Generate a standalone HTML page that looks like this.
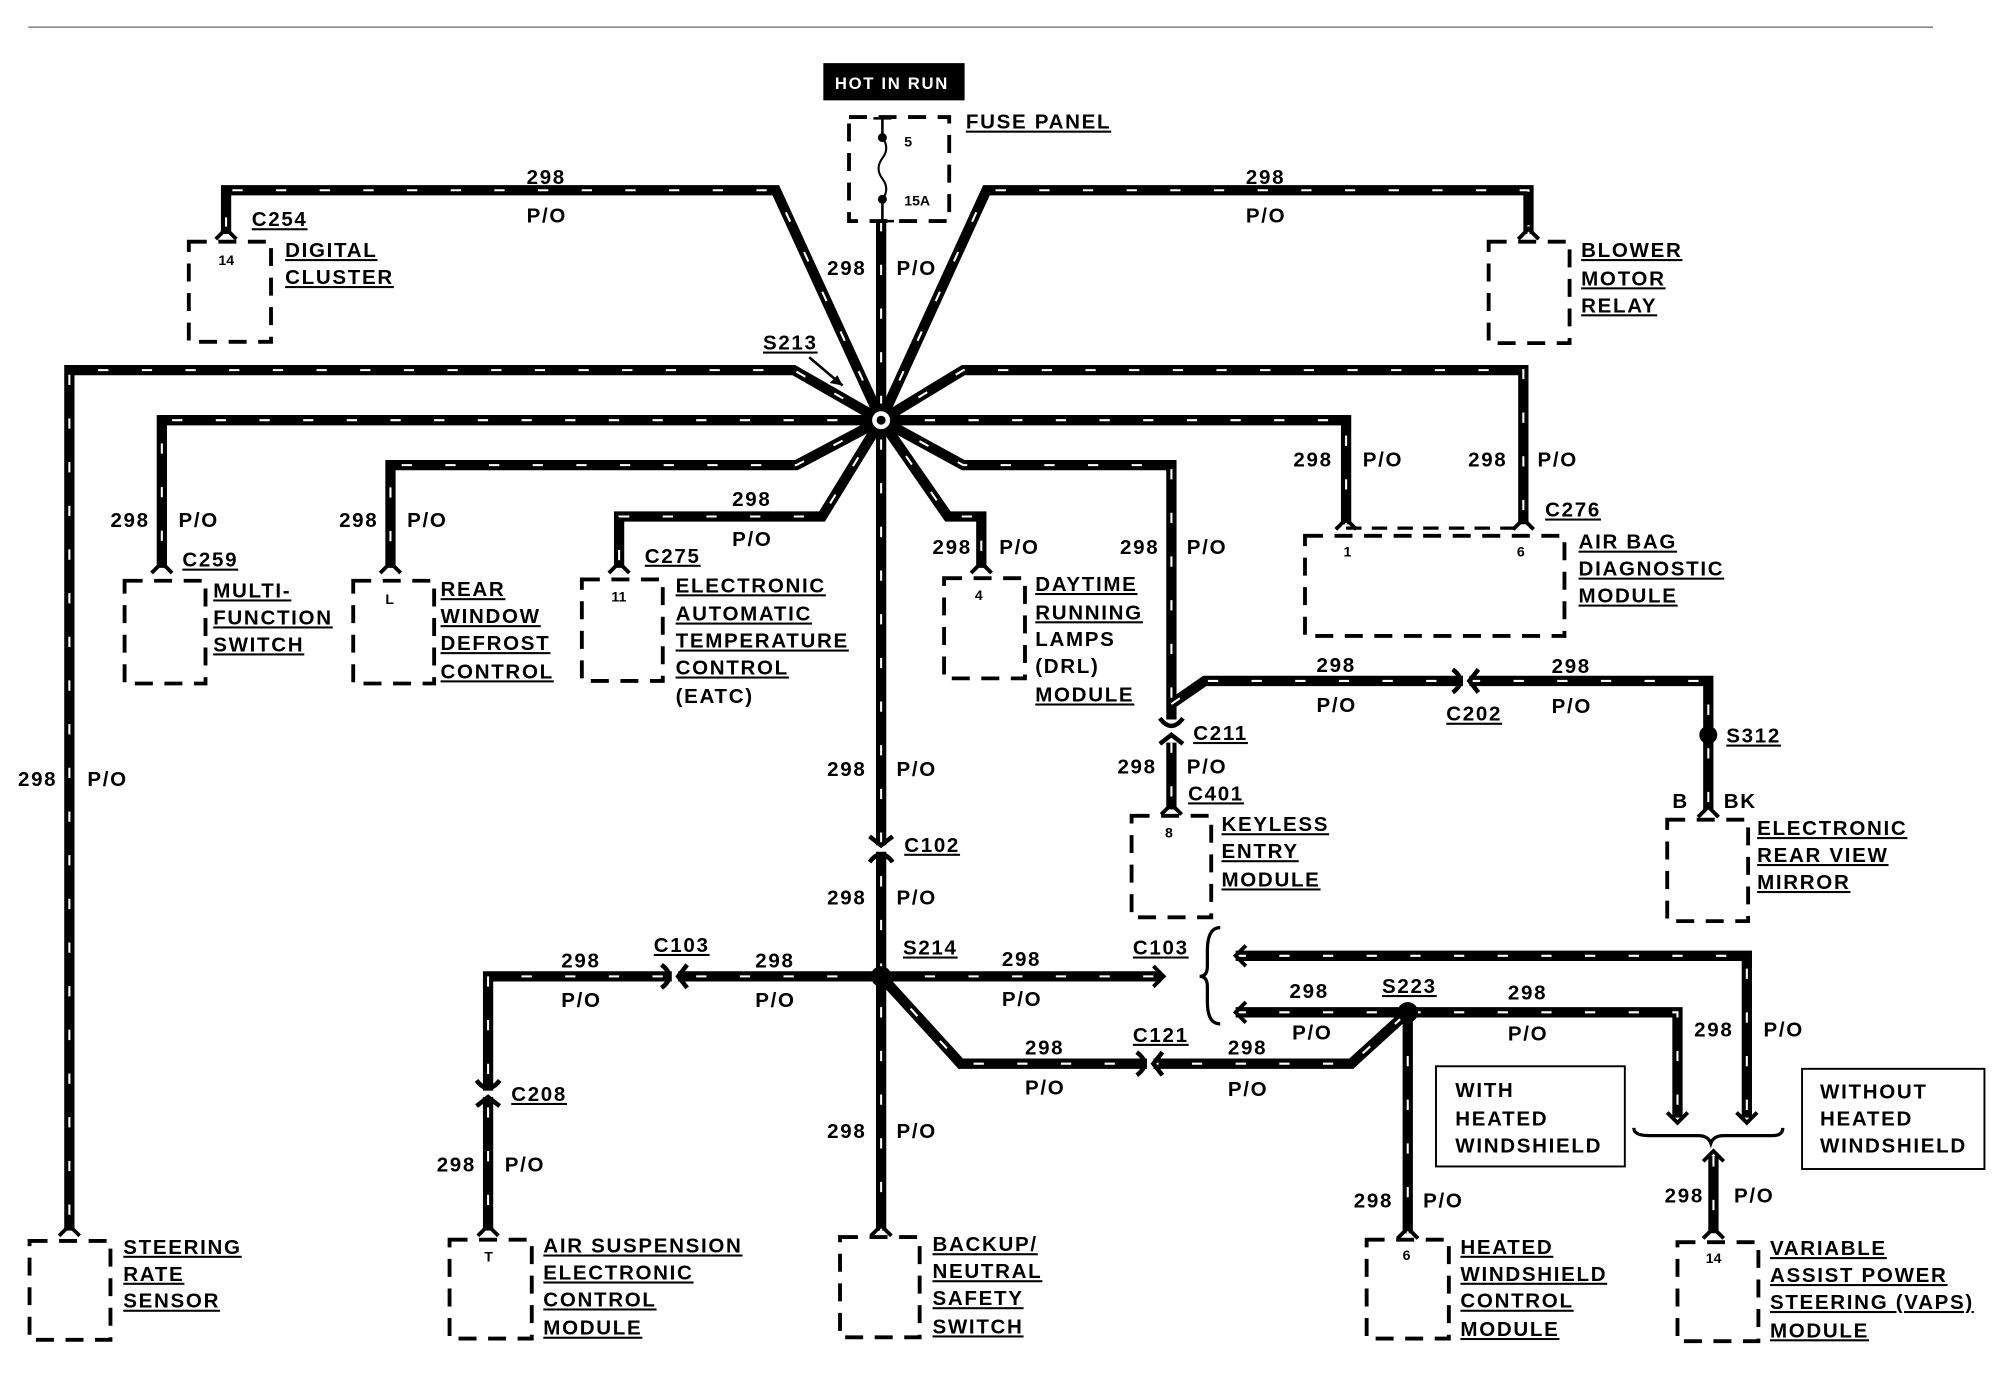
<!DOCTYPE html>
<html><head><meta charset="utf-8"><style>
html,body{margin:0;padding:0;background:#fff}
svg{display:block}
text{font-family:"Liberation Sans",sans-serif;font-weight:bold;font-size:16px;letter-spacing:1.3px;fill:#000}
.u{text-decoration:underline}
.s{font-size:11px;letter-spacing:0}
.wb{fill:none;stroke:#000;stroke-width:8;stroke-linejoin:miter}
.ww{fill:none;stroke:#fff;stroke-width:1.6;stroke-dasharray:8 26}
.bx{fill:none;stroke:#000;stroke-width:3;stroke-dasharray:14 9}
</style></head><body>
<svg width="2014" height="1376" viewBox="0 0 1568 1071" xmlns="http://www.w3.org/2000/svg">
<line x1="22" y1="21" x2="1505" y2="21" stroke="#666" stroke-width="1"/>
<defs>
<path id="w1" d="M686,172 L686,958"/>
<path id="w2" d="M686,327 L604,148 L176,148 L176,182"/>
<path id="w3" d="M686,327 L768,148 L1190,148 L1190,182"/>
<path id="w4" d="M686,327 L618,288 L54,288 L54,958"/>
<path id="w5" d="M686,327 L126,327 L126,442"/>
<path id="w6" d="M686,327 L620,362 L304,362 L304,442"/>
<path id="w7" d="M686,327 L640,402 L482,402 L482,442"/>
<path id="w8" d="M686,327 L738,402 L764,402 L764,442"/>
<path id="w9" d="M686,327 L750,362 L912,362 L912,560"/>
<path id="w10" d="M686,327 L1048,327 L1048,408"/>
<path id="w11" d="M686,327 L750,288 L1186,288 L1186,408"/>
<path id="w12" d="M912,548 L938,530 L1330,530 L1330,630"/>
<path id="w13" d="M912,578 L912,630"/>
<path id="w14" d="M686,760 L380,760 L380,958"/>
<path id="w15" d="M686,760 L904,760"/>
<path id="w16" d="M686,760 L748,828 L1052,828 L1096,788"/>
<path id="w17" d="M962,788 L1306,788 L1306,870"/>
<path id="w18" d="M1096,788 L1096,960"/>
<path id="w19" d="M962,744 L1360,744 L1360,870"/>
<path id="w20" d="M1334,900 L1334,960"/>
<g id="cn">
<rect x="-6" y="-2" width="12" height="5" fill="#fff"/>
<path d="M-9,-9 L0,-2 L9,-9" fill="none" stroke="#000" stroke-width="3.5"/>
<path d="M-9,11 Q0,-1 9,11" fill="none" stroke="#000" stroke-width="3.5"/>
</g>
</defs>
<g class="wb">
<use href="#w1"/><use href="#w2"/><use href="#w3"/><use href="#w4"/><use href="#w5"/><use href="#w6"/><use href="#w7"/><use href="#w8"/><use href="#w9"/><use href="#w10"/><use href="#w11"/><use href="#w12"/><use href="#w13"/><use href="#w14"/><use href="#w15"/><use href="#w16"/><use href="#w17"/><use href="#w18"/><use href="#w19"/><use href="#w20"/>
</g>
<g class="ww">
<use href="#w1"/><use href="#w2"/><use href="#w3"/><use href="#w4"/><use href="#w5"/><use href="#w6"/><use href="#w7"/><use href="#w8"/><use href="#w9"/><use href="#w10"/><use href="#w11"/><use href="#w12"/><use href="#w13"/><use href="#w14"/><use href="#w15"/><use href="#w16"/><use href="#w17"/><use href="#w18"/><use href="#w19"/><use href="#w20"/>
</g>
<!-- splices -->
<circle cx="686" cy="327" r="13" fill="#000"/><circle cx="686" cy="327" r="7" fill="#fff"/><circle cx="686" cy="327" r="3.5" fill="#000"/>
<circle cx="686" cy="760" r="8" fill="#000"/>
<circle cx="1096" cy="788" r="8" fill="#000"/>
<circle cx="1330" cy="572" r="7" fill="#000"/>
<path d="M630,278 L656,300" stroke="#000" stroke-width="2"/><path d="M656,300 L646,298 L652,292Z" fill="#000"/>
<!-- inline connectors -->
<use href="#cn" transform="translate(686,660)"/>
<use href="#cn" transform="translate(912,570) rotate(180)"/>
<use href="#cn" transform="translate(380,852) rotate(180)"/>
<use href="#cn" transform="translate(1142,530) rotate(90)"/>
<use href="#cn" transform="translate(526,760) rotate(90)"/>
<use href="#cn" transform="translate(896,828) rotate(90)"/>
<!-- connector marks -->
<g fill="none" stroke="#000" stroke-width="3">
<path d="M168,186 L176,178 L184,186"/><path d="M1182,186 L1190,178 L1198,186"/>
<path d="M118,446 L126,438 L134,446"/><path d="M296,446 L304,438 L312,446"/><path d="M474,446 L482,438 L490,446"/><path d="M756,446 L764,438 L772,446"/>
<path d="M1040,412 L1048,404 L1056,412"/><path d="M1178,412 L1186,404 L1194,412"/>
<path d="M904,634 L912,626 L920,634"/><path d="M1322,636 L1330,628 L1338,636"/>
<path d="M46,962 L54,954 L62,962"/><path d="M372,962 L380,954 L388,962"/><path d="M678,962 L686,954 L694,962"/><path d="M1088,964 L1096,956 L1104,964"/><path d="M1326,964 L1334,956 L1342,964"/>
<path d="M898,752 L906,760 L898,768"/>
<path d="M970,780 L962,788 L970,796"/><path d="M970,736 L962,744 L970,752"/>
<path d="M1298,866 L1306,874 L1314,866"/><path d="M1352,866 L1360,874 L1368,866"/>
<path d="M1326,904 L1334,896 L1342,904"/>
<path d="M950,722 Q940,722 940,740 L940,752 Q940,760 934,760 Q940,760 940,768 L940,780 Q940,797 950,797" stroke-width="2.5"/>
<path d="M1272,878 Q1272,884 1284,884 L1322,884 Q1330,884 1332,890 Q1334,884 1342,884 L1380,884 Q1388,884 1388,878" stroke-width="2.5"/>
</g>
<!-- fuse -->
<rect x="641" y="49" width="110" height="29" fill="#000"/>
<text x="650" y="69" style="fill:#fff;font-size:13px">HOT IN RUN</text>
<rect x="661" y="91" width="78" height="81" class="bx"/>
<path d="M680,92 L694,92 M687,92 L687,107 M687,155 L687,172 M678,172 L696,172" stroke="#000" stroke-width="2"/>
<path d="M687,107 q6,8 0,16 q-6,8 0,16 q6,8 0,16" stroke="#000" stroke-width="1.6" fill="none"/>
<circle cx="687" cy="107" r="3.5"/><circle cx="687" cy="155" r="3.5"/>
<text x="704" y="114" class="s">5</text><text x="704" y="160" class="s">15A</text>
<text x="752" y="100" class="u">FUSE PANEL</text>
<!-- boxes -->
<rect x="147" y="188" width="64" height="78" class="bx"/>
<rect x="1159" y="188" width="63" height="79" class="bx"/>
<rect x="97" y="452" width="63" height="80" class="bx"/>
<rect x="275" y="452" width="63" height="80" class="bx"/>
<rect x="453" y="451" width="63" height="79" class="bx"/>
<rect x="735" y="450" width="63" height="78" class="bx"/>
<rect x="1016" y="417" width="202" height="78" class="bx"/>
<path d="M1048,411 L1186,411" stroke="#000" stroke-width="2.5" stroke-dasharray="12 8"/>
<rect x="881" y="635" width="62" height="79" class="bx"/>
<rect x="1298" y="638" width="63" height="79" class="bx"/>
<rect x="23" y="966" width="63" height="77" class="bx"/>
<rect x="350" y="965" width="64" height="77" class="bx"/>
<rect x="654" y="963" width="62" height="78" class="bx"/>
<rect x="1064" y="965" width="64" height="77" class="bx"/>
<rect x="1306" y="967" width="63" height="77" class="bx"/>
<rect x="1118" y="830" width="147" height="78" fill="none" stroke="#000" stroke-width="1.5"/>
<rect x="1403" y="832" width="142" height="78" fill="none" stroke="#000" stroke-width="1.5"/>
<!-- pin numbers -->
<text x="170" y="206" class="s">14</text><text x="300" y="470" class="s">L</text><text x="476" y="468" class="s">11</text>
<text x="759" y="467" class="s">4</text><text x="1046" y="433" class="s">1</text><text x="1181" y="433" class="s">6</text>
<text x="907" y="652" class="s">8</text><text x="377" y="982" class="s">T</text><text x="1092" y="981" class="s">6</text><text x="1328" y="983" class="s">14</text>
<!-- component labels -->
<text x="222" y="200" class="u">DIGITAL</text><text x="222" y="221" class="u">CLUSTER</text>
<text x="1231" y="200" class="u">BLOWER</text><text x="1231" y="222" class="u">MOTOR</text><text x="1231" y="243" class="u">RELAY</text>
<text x="166" y="465" class="u">MULTI-</text><text x="166" y="486" class="u">FUNCTION</text><text x="166" y="507" class="u">SWITCH</text>
<text x="343" y="464" class="u">REAR</text><text x="343" y="485" class="u">WINDOW</text><text x="343" y="506" class="u">DEFROST</text><text x="343" y="528" class="u">CONTROL</text>
<text x="526" y="461" class="u">ELECTRONIC</text><text x="526" y="483" class="u">AUTOMATIC</text><text x="526" y="504" class="u">TEMPERATURE</text><text x="526" y="525" class="u">CONTROL</text><text x="526" y="547">(EATC)</text>
<text x="806" y="460" class="u">DAYTIME</text><text x="806" y="482" class="u">RUNNING</text><text x="806" y="503">LAMPS</text><text x="806" y="524">(DRL)</text><text x="806" y="546" class="u">MODULE</text>
<text x="1229" y="427" class="u">AIR BAG</text><text x="1229" y="448" class="u">DIAGNOSTIC</text><text x="1229" y="469" class="u">MODULE</text>
<text x="951" y="647" class="u">KEYLESS</text><text x="951" y="668" class="u">ENTRY</text><text x="951" y="690" class="u">MODULE</text>
<text x="1368" y="650" class="u">ELECTRONIC</text><text x="1368" y="671" class="u">REAR VIEW</text><text x="1368" y="692" class="u">MIRROR</text>
<text x="96" y="976" class="u">STEERING</text><text x="96" y="997" class="u">RATE</text><text x="96" y="1018" class="u">SENSOR</text>
<text x="423" y="975" class="u">AIR SUSPENSION</text><text x="423" y="996" class="u">ELECTRONIC</text><text x="423" y="1017" class="u">CONTROL</text><text x="423" y="1039" class="u">MODULE</text>
<text x="726" y="974" class="u">BACKUP/</text><text x="726" y="995" class="u">NEUTRAL</text><text x="726" y="1016" class="u">SAFETY</text><text x="726" y="1038" class="u">SWITCH</text>
<text x="1137" y="976" class="u">HEATED</text><text x="1137" y="997" class="u">WINDSHIELD</text><text x="1137" y="1018" class="u">CONTROL</text><text x="1137" y="1040" class="u">MODULE</text>
<text x="1378" y="977" class="u">VARIABLE</text><text x="1378" y="998" class="u">ASSIST POWER</text><text x="1378" y="1019" class="u">STEERING (VAPS)</text><text x="1378" y="1041" class="u">MODULE</text>
<text x="1133" y="854">WITH</text><text x="1133" y="876">HEATED</text><text x="1133" y="897">WINDSHIELD</text>
<text x="1417" y="855">WITHOUT</text><text x="1417" y="876">HEATED</text><text x="1417" y="897">WINDSHIELD</text>
<!-- connector labels -->
<text x="196" y="176" class="u">C254</text><text x="1203" y="402" class="u">C276</text><text x="594" y="272" class="u">S213</text>
<text x="142" y="441" class="u">C259</text><text x="502" y="438" class="u">C275</text>
<text x="929" y="576" class="u">C211</text><text x="925" y="623" class="u">C401</text><text x="1126" y="561" class="u">C202</text><text x="1344" y="578" class="u">S312</text>
<text x="704" y="663" class="u">C102</text><text x="509" y="741" class="u">C103</text><text x="703" y="743" class="u">S214</text><text x="882" y="743" class="u">C103</text>
<text x="1076" y="773" class="u">S223</text><text x="882" y="811" class="u">C121</text><text x="398" y="857" class="u">C208</text>
<!-- wire labels -->
<text x="410" y="143">298</text><text x="410" y="173">P/O</text>
<text x="970" y="143">298</text><text x="970" y="173">P/O</text>
<text x="644" y="214">298</text><text x="698" y="214">P/O</text>
<text x="86" y="410">298</text><text x="139" y="410">P/O</text>
<text x="264" y="410">298</text><text x="317" y="410">P/O</text>
<text x="570" y="394">298</text><text x="570" y="425">P/O</text>
<text x="726" y="431">298</text><text x="778" y="431">P/O</text>
<text x="872" y="431">298</text><text x="924" y="431">P/O</text>
<text x="1007" y="363">298</text><text x="1061" y="363">P/O</text>
<text x="1143" y="363">298</text><text x="1197" y="363">P/O</text>
<text x="1025" y="523">298</text><text x="1025" y="554">P/O</text>
<text x="1208" y="524">298</text><text x="1208" y="555">P/O</text>
<text x="870" y="602">298</text><text x="924" y="602">P/O</text>
<text x="1302" y="629">B</text><text x="1342" y="629">BK</text>
<text x="14" y="612">298</text><text x="68" y="612">P/O</text>
<text x="644" y="604">298</text><text x="698" y="604">P/O</text>
<text x="644" y="704">298</text><text x="698" y="704">P/O</text>
<text x="437" y="753">298</text><text x="437" y="784">P/O</text>
<text x="588" y="753">298</text><text x="588" y="784">P/O</text>
<text x="780" y="752">298</text><text x="780" y="783">P/O</text>
<text x="798" y="821">298</text><text x="798" y="852">P/O</text>
<text x="956" y="821">298</text><text x="956" y="853">P/O</text>
<text x="1004" y="777">298</text><text x="1006" y="809">P/O</text>
<text x="1174" y="778">298</text><text x="1174" y="810">P/O</text>
<text x="1319" y="807">298</text><text x="1373" y="807">P/O</text>
<text x="340" y="912">298</text><text x="393" y="912">P/O</text>
<text x="644" y="886">298</text><text x="698" y="886">P/O</text>
<text x="1054" y="940">298</text><text x="1108" y="940">P/O</text>
<text x="1296" y="936">298</text><text x="1350" y="936">P/O</text>
</svg>
</body></html>
